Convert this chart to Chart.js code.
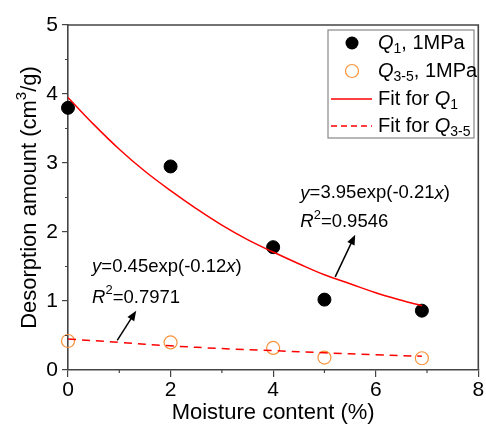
<!DOCTYPE html>
<html>
<head>
<meta charset="utf-8">
<script src="https://cdn.jsdelivr.net/npm/chart.js@4.4.1/dist/chart.umd.min.js"></script>
<style>
  html, body { margin: 0; padding: 0; background: #fff; }
  #wrap { width: 486px; height: 427px; }
</style>
</head>
<body>
<div id="wrap"><canvas id="chart" width="486" height="427"></canvas></div>
<script>
// measured points
const moisture = [0, 2, 4, 5, 6.9];
const q1 = [3.8, 2.95, 1.78, 1.02, 0.86];
const q35 = [0.42, 0.40, 0.32, 0.18, 0.17];

// fit curves
const fitQ1X = [0, 0.5, 1, 1.5, 2, 2.5, 3, 3.5, 4, 4.5, 5, 5.5, 6, 6.5, 6.9];
const fitQ1Y = [3.95, 3.56, 3.20, 2.88, 2.60, 2.34, 2.10, 1.89, 1.71, 1.54, 1.38, 1.25, 1.12, 1.01, 0.93];
const fitQ35X = [0, 1, 2, 3, 4, 5, 6, 6.9];
const fitQ35Y = [0.45, 0.40, 0.35, 0.31, 0.28, 0.25, 0.22, 0.20];

const xTicks = [0, 2, 4, 6, 8];
const yTicks = [0, 1, 2, 3, 4, 5];

const FONT = '"Liberation Sans", Arial, sans-serif';

const pts = (xs, ys) => xs.map((x, i) => ({ x: x, y: ys[i] }));

// draws "normal", italic, sub and sup pieces in a row
function richText(ctx, parts, x, y, size) {
    let cx = x;
    parts.forEach(p => {
        let s = size, dy = 0, style = '';
        if (p.i) style = 'italic ';
        if (p.sub) { s = size * 0.7; dy = size * 0.3; }
        if (p.sup) { s = size * 0.7; dy = -size * 0.38; }
        ctx.font = style + s + 'px ' + FONT;
        ctx.fillText(p.t, cx, y + dy);
        cx += ctx.measureText(p.t).width;
    });
}

function arrow(ctx, x1, y1, x2, y2) {
    const a = Math.atan2(y2 - y1, x2 - x1);
    ctx.strokeStyle = '#000';
    ctx.fillStyle = '#000';
    ctx.lineWidth = 1.5;
    ctx.beginPath();
    ctx.moveTo(x1, y1);
    ctx.lineTo(x2 - 6 * Math.cos(a), y2 - 6 * Math.sin(a));
    ctx.stroke();
    ctx.beginPath();
    ctx.moveTo(x2, y2);
    ctx.lineTo(x2 - 10 * Math.cos(a) + 4 * Math.sin(a), y2 - 10 * Math.sin(a) - 4 * Math.cos(a));
    ctx.lineTo(x2 - 10 * Math.cos(a) - 4 * Math.sin(a), y2 - 10 * Math.sin(a) + 4 * Math.cos(a));
    ctx.closePath();
    ctx.fill();
}

const extras = {
    id: 'extras',
    afterDraw(chart) {
        const ctx = chart.ctx;
        const a = chart.chartArea;
        const xs = chart.scales.x, ys = chart.scales.y;
        ctx.save();

        // frame top and right
        ctx.strokeStyle = '#444';
        ctx.lineWidth = 1.6;
        ctx.beginPath();
        ctx.moveTo(a.left, a.top);
        ctx.lineTo(a.right, a.top);
        ctx.lineTo(a.right, a.bottom);
        ctx.stroke();

        // minor ticks
        ctx.lineWidth = 1.2;
        ctx.beginPath();
        [1, 3, 5, 7].forEach(v => {
            const px = xs.getPixelForValue(v);
            ctx.moveTo(px, a.bottom);
            ctx.lineTo(px, a.bottom + 3);
        });
        [0.5, 1.5, 2.5, 3.5, 4.5].forEach(v => {
            const py = ys.getPixelForValue(v);
            ctx.moveTo(a.left, py);
            ctx.lineTo(a.left - 3, py);
        });
        ctx.stroke();

        // axis titles
        ctx.fillStyle = '#000';
        ctx.textBaseline = 'middle';
        ctx.textAlign = 'center';
        ctx.font = '22px ' + FONT;
        ctx.fillText('Moisture content (%)', (a.left + a.right) / 2, 413);
        ctx.save();
        ctx.translate(30, (a.top + a.bottom) / 2);
        ctx.rotate(-Math.PI / 2);
        ctx.textAlign = 'left';
        ctx.font = '22px ' + FONT;
        const t1 = 'Desorption amount (cm', t2 = '3', t3 = '/g)';
        const w1 = ctx.measureText(t1).width, w3 = ctx.measureText(t3).width;
        ctx.font = '15px ' + FONT;
        const w2 = ctx.measureText(t2).width;
        let sx = -(w1 + w2 + w3) / 2;
        ctx.font = '22px ' + FONT;
        ctx.fillText(t1, sx, 0);
        ctx.font = '15px ' + FONT;
        ctx.fillText(t2, sx + w1, -8);
        ctx.font = '22px ' + FONT;
        ctx.fillText(t3, sx + w1 + w2, 0);
        ctx.restore();

        // legend box
        ctx.strokeStyle = '#888';
        ctx.lineWidth = 1.2;
        ctx.strokeRect(328, 30, 146, 108);
        ctx.textAlign = 'left';
        const rows = [43, 71, 99, 126];
        ctx.fillStyle = '#000';
        ctx.beginPath();
        ctx.arc(352, rows[0], 6.5, 0, Math.PI * 2);
        ctx.fill();
        ctx.strokeStyle = '#f7923a';
        ctx.lineWidth = 1.2;
        ctx.beginPath();
        ctx.arc(352, rows[1], 6.5, 0, Math.PI * 2);
        ctx.stroke();
        ctx.strokeStyle = '#ff0000';
        ctx.lineWidth = 1.5;
        ctx.beginPath();
        ctx.moveTo(331, rows[2]);
        ctx.lineTo(372, rows[2]);
        ctx.stroke();
        ctx.setLineDash([6, 4]);
        ctx.beginPath();
        ctx.moveTo(331, rows[3]);
        ctx.lineTo(372, rows[3]);
        ctx.stroke();
        ctx.setLineDash([]);
        ctx.fillStyle = '#000';
        richText(ctx, [{ t: 'Q', i: 1 }, { t: '1', sub: 1 }, { t: ', 1MPa' }], 378, rows[0], 20);
        richText(ctx, [{ t: 'Q', i: 1 }, { t: '3-5', sub: 1 }, { t: ', 1MPa' }], 378, rows[1], 20);
        richText(ctx, [{ t: 'Fit for ' }, { t: 'Q', i: 1 }, { t: '1', sub: 1 }], 378, rows[2], 20);
        richText(ctx, [{ t: 'Fit for ' }, { t: 'Q', i: 1 }, { t: '3-5', sub: 1 }], 378, rows[3], 20);

        // fit equations
        const X = v => xs.getPixelForValue(v), Y = v => ys.getPixelForValue(v);
        richText(ctx, [{ t: 'y', i: 1 }, { t: '=3.95exp(-0.21' }, { t: 'x', i: 1 }, { t: ')' }], X(4.53), Y(2.56), 18.5);
        richText(ctx, [{ t: 'R', i: 1 }, { t: '2', sup: 1 }, { t: '=0.9546' }], X(4.53), Y(2.14), 18.5);
        arrow(ctx, X(5.21), Y(1.35), X(5.6), Y(1.96));
        richText(ctx, [{ t: 'y', i: 1 }, { t: '=0.45exp(-0.12' }, { t: 'x', i: 1 }, { t: ')' }], X(0.47), Y(1.49), 18.5);
        richText(ctx, [{ t: 'R', i: 1 }, { t: '2', sup: 1 }, { t: '=0.7971' }], X(0.47), Y(1.05), 18.5);
        arrow(ctx, X(0.96), Y(0.43), X(1.33), Y(0.86));

        ctx.restore();
    }
};

new Chart(document.getElementById('chart'), {
    type: 'scatter',
    data: {
        datasets: [
            {
                label: 'Fit for Q1',
                data: pts(fitQ1X, fitQ1Y),
                showLine: true,
                borderColor: '#ff0000',
                borderWidth: 1.5,
                pointRadius: 0,
                tension: 0.4
            },
            {
                label: 'Fit for Q3-5',
                data: pts(fitQ35X, fitQ35Y),
                showLine: true,
                borderColor: '#ff0000',
                borderWidth: 1.5,
                borderDash: [8, 6],
                pointRadius: 0,
                tension: 0.4
            },
            {
                label: 'Q1, 1MPa',
                data: pts(moisture, q1),
                backgroundColor: '#000',
                borderColor: '#000',
                pointRadius: 6.5
            },
            {
                label: 'Q3-5, 1MPa',
                data: pts(moisture, q35),
                backgroundColor: 'rgba(0,0,0,0)',
                borderColor: '#f7923a',
                borderWidth: 1.2,
                pointRadius: 6.5
            }
        ]
    },
    options: {
        responsive: false,
        animation: false,
        clip: false,
        layout: { padding: { top: 25, right: 6, left: 0, bottom: 0 } },
        plugins: { legend: { display: false }, tooltip: { enabled: false } },
        scales: {
            x: {
                type: 'linear',
                min: 0, max: 8,
                afterFit: s => { s.height = 57; },
                afterBuildTicks: s => { s.ticks = xTicks.map(v => ({ value: v })); },
                ticks: { color: '#000', font: { family: FONT, size: 21 }, padding: 1 },
                grid: { drawOnChartArea: false, tickLength: 7, color: '#444', lineWidth: 1.2 },
                border: { color: '#444', width: 1.6 }
            },
            y: {
                type: 'linear',
                min: 0, max: 5,
                afterFit: s => { s.width = 68; },
                afterBuildTicks: s => { s.ticks = yTicks.map(v => ({ value: v })); },
                ticks: { color: '#000', font: { family: FONT, size: 21 }, padding: 4 },
                grid: { drawOnChartArea: false, tickLength: 6, color: '#444', lineWidth: 1.2 },
                border: { color: '#444', width: 1.6 }
            }
        }
    },
    plugins: [extras]
});
</script>
</body>
</html>
